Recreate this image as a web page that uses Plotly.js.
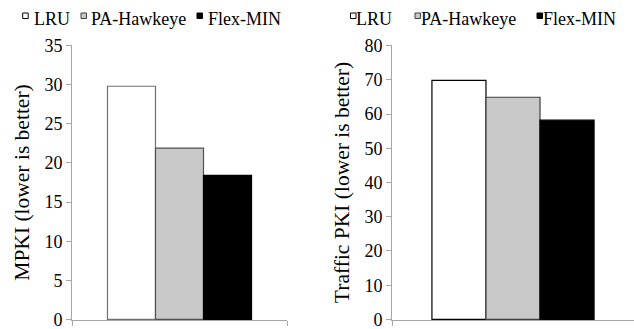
<!DOCTYPE html>
<html>
<head>
<meta charset="utf-8">
<script src="https://cdn.plot.ly/plotly-3.0.1.min.js"></script>
</head>
<body style="margin:0;background:#fff">
<div id="chart"></div>
<script>
// ---- data ----
var seriesNames = ['LRU', 'PA-Hawkeye', 'Flex-MIN'];
var mpkiValues = [29.8, 21.9, 18.4];
var trafficValues = [69.8, 64.9, 58.2];
var mpkiTicks = [0, 5, 10, 15, 20, 25, 30, 35];
var trafficTicks = [0, 10, 20, 30, 40, 50, 60, 70, 80];
var category = ['all'];
var leftTitle = 'MPKI (lower is better)';
var rightTitle = 'Traffic PKI (lower is better)';

// ---- style ----
var W = 634, H = 329;
var fills = ['#ffffff', '#c8c8c8', '#000000'];
var leftLines = ['#707070', '#505050', '#000000'];
var rightLines = ['#000000', '#404040', '#000000'];
var axisGray = '#a6a6a6';

var traces = [];
seriesNames.forEach(function (name, i) {
  traces.push({
    type: 'bar', name: name, x: category, y: [mpkiValues[i]],
    xaxis: 'x', yaxis: 'y', showlegend: false,
    marker: {color: fills[i], line: {color: leftLines[i], width: 1.2}}
  });
});
seriesNames.forEach(function (name, i) {
  traces.push({
    type: 'bar', name: name, x: category, y: [trafficValues[i]],
    xaxis: 'x2', yaxis: 'y2', showlegend: false,
    marker: {color: fills[i], line: {color: rightLines[i], width: 1.2}}
  });
});

var yDom = [(H - 320) / H, (H - 45) / H];
function yAxis(ticks, title, anchor) {
  var lo = ticks[0], hi = ticks[ticks.length - 1], eps = (hi - lo) * 0.002;
  return {
    domain: yDom, anchor: anchor,
    range: [lo - eps, hi + eps],
    tickmode: 'array', tickvals: ticks,
    showgrid: false, zeroline: false,
    showline: true, linecolor: axisGray, linewidth: 1,
    ticks: 'outside', ticklen: 5, tickcolor: axisGray, tickwidth: 1,
    ticklabeloverflow: 'allow',
    tickfont: {family: 'Liberation Serif', size: 18},
    title: {text: title, font: {family: 'Liberation Serif', size: 21.5}, standoff: 8},
    fixedrange: true
  };
}
function xAxis(domain, anchor) {
  return {
    domain: domain, anchor: anchor, type: 'category',
    showgrid: false, zeroline: false,
    showline: true, linecolor: axisGray, linewidth: 1,
    ticks: 'outside', tickson: 'boundaries', ticklen: 5, tickcolor: axisGray,
    showticklabels: false, fixedrange: true
  };
}

// legend built from the series names
var legendLayouts = [
  {sq: [22.7, 81, 197], tx: [32, 89, 206]},
  {sq: [350.5, 415, 537], tx: [354, 419, 541]}
];
var legendSqLines = ['#000000', '#404040', '#000000'];
var annotations = [];
var shapes = [];
legendLayouts.forEach(function (L) {
  seriesNames.forEach(function (name, i) {
    annotations.push({
      xref: 'paper', yref: 'paper', x: L.tx[i] / W, y: 1 - 19.5 / H,
      xanchor: 'left', yanchor: 'middle', showarrow: false,
      text: name, font: {family: 'Liberation Serif', size: 18}
    });
    shapes.push({
      type: 'rect', xref: 'paper', yref: 'paper',
      xsizemode: 'pixel', ysizemode: 'pixel',
      xanchor: L.sq[i] / W, yanchor: 1 - 13 / H,
      x0: 0, x1: 5.5, y0: 0, y1: -5.5,
      fillcolor: fills[i], line: {color: legendSqLines[i], width: 1}
    });
  });
});

var layout = {
  width: W, height: H,
  margin: {l: 0, r: 0, t: 0, b: 0},
  paper_bgcolor: '#ffffff', plot_bgcolor: '#ffffff',
  font: {family: 'Liberation Serif', color: '#000000'},
  barmode: 'group', bargap: 0.33, bargroupgap: 0,
  showlegend: false,
  xaxis: xAxis([72 / W, 287 / W], 'y'),
  yaxis: yAxis(mpkiTicks, leftTitle, 'x'),
  xaxis2: xAxis([392 / W, 1], 'y2'),
  yaxis2: yAxis(trafficTicks, rightTitle, 'x2'),
  annotations: annotations,
  shapes: shapes
};

Plotly.newPlot('chart', traces, layout, {staticPlot: true});
</script>
</body>
</html>
